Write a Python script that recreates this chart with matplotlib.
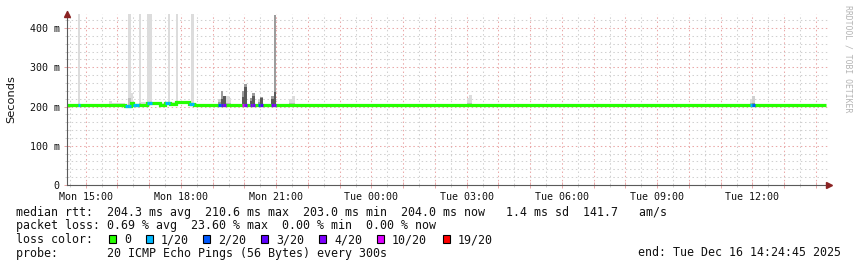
import matplotlib
matplotlib.use("Agg")
import matplotlib.pyplot as plt
import numpy as np
from matplotlib.patches import Rectangle
from matplotlib.ticker import FixedLocator, MultipleLocator

# ---------------- data ----------------
START_H = 14 + 24 / 60 + 45 / 3600        # Mon 14:24:45, hours since Mon 00:00
SPAN_H = 24.0
STEP_H = 5 / 60                           # 300 s steps
FIRST_STEP_H = 14 + 25 / 60

# median rtt (ms), run-length encoded: run lengths and values
median_run_len = [22, 2, 1, 2, 3, 2, 3, 2, 2, 2, 5, 2, 106, 5, 11, 4, 1, 2, 5, 10,
                  2, 2, 3, 3, 29, 2, 27, 10, 5, 2, 10]
median_run_val = [204.3, 202.0, 209.5, 203.5, 205.0, 209.5, 209.0, 203.0, 209.5, 207.0,
                  210.6, 206.0, 204.3, 203.0, 204.3, 203.0, 204.3, 203.0, 204.3, 203.0,
                  204.3, 203.0, 204.3, 203.0, 204.3, 203.0, 204.3, 203.0, 204.3, 203.0, 204.3]

# lost pings (out of 20) at step indices
loss_idx = [4, 22, 23, 25, 26, 30, 31, 37, 38, 46, 47, 57, 58, 59, 66, 67, 69, 70, 72, 73, 77, 78, 258, 259]
loss_cnt = [1, 1, 1, 1, 1, 1, 1, 1, 1, 1, 1, 2, 3, 4, 10, 4, 4, 4, 2, 3, 4, 4, 1, 2]

# smoke: step index, max ping (ms), upper ping of the dense band (ms)
smoke_idx = [4, 16, 17, 18, 19, 20, 21, 23, 24, 27, 28, 29, 30, 31, 32, 33, 34, 35, 36, 38,
             39, 40, 41, 42, 43, 44, 45, 47, 48, 57, 58, 59, 60, 61, 66, 67, 69, 70, 72, 73,
             77, 78, 84, 85, 151, 152, 258, 259]
smoke_top = [435, 213, 209, 209, 209, 209, 209, 435, 234, 435, 212, 212, 435, 435, 210, 210, 210, 210, 210, 435,
             212, 212, 435, 212, 212, 212, 212, 435, 208, 220, 239, 226, 227, 222, 240, 257, 223, 234, 220, 224,
             227, 434, 220, 226, 221, 229, 219, 227]
smoke_mid = [206, 206, 206, 206, 206, 206, 206, 222, 212, 210, 207, 207, 212, 212, 207, 207, 207, 207, 207, 212,
             208, 208, 212, 208, 208, 208, 208, 210, 206, 212, 220, 226, 210, 208, 225, 250, 215, 228, 212, 222,
             220, 237, 208, 208, 208, 208, 208, 208]

tick_hours = [15, 18, 21, 24, 27, 30, 33, 36]
tick_labels = ["Mon 15:00", "Mon 18:00", "Mon 21:00", "Tue 00:00",
               "Tue 03:00", "Tue 06:00", "Tue 09:00", "Tue 12:00"]
ytick_vals = [0, 100, 200, 300, 400]
ytick_labels = ["0", "100 m", "200 m", "300 m", "400 m"]

loss_legend_thresh = [0, 1, 2, 3, 4, 10, 19]
loss_legend_labels = ["0", "1/20", "2/20", "3/20", "4/20", "10/20", "19/20"]
loss_legend_colors = ["#26ff00", "#00b8ff", "#0059ff", "#5e00ff", "#7e00ff", "#dd00ff", "#ff0000"]

line_rtt = "median rtt:  204.3 ms avg  210.6 ms max  203.0 ms min  204.0 ms now   1.4 ms sd  141.7   am/s"
line_loss = "packet loss: 0.69 % avg  23.60 % max  0.00 % min  0.00 % now"
line_color = "loss color:"
line_probe = "probe:       20 ICMP Echo Pings (56 Bytes) every 300s"
line_end = "end: Tue Dec 16 14:24:45 2025"
watermark = "RRDTOOL / TOBI OETIKER"

# ---------------- figure ----------------
W, H = 857, 267
fig = plt.figure(figsize=(W / 100, H / 100), dpi=100)
fig.patch.set_facecolor("white")
fx = lambda x: x / W
fy = lambda y: 1 - y / H

ax = fig.add_axes([fx(67), fy(185), (829 - 67) / W, (185 - 14) / H])
ax.set_xlim(START_H, START_H + SPAN_H)
ax.set_ylim(0, 436)

median = np.repeat(median_run_val, median_run_len)
n = len(median)
edges = FIRST_STEP_H + np.arange(n + 1) * STEP_H
loss = np.zeros(n, dtype=int)
loss[loss_idx] = loss_cnt


def loss_color(l):
    c = loss_legend_colors[0]
    for t, col in zip(loss_legend_thresh, loss_legend_colors):
        if l >= t:
            c = col
    return c


# smoke
for i, top, mid in zip(smoke_idx, smoke_top, smoke_mid):
    base = median[i] - 1.5
    l = loss[i]
    if l >= 3:
        c_mid, c_top = "#5a5a5a", "#9c9c9c"
    elif l == 2:
        c_mid, c_top = "#9a9a9a", "#d0d0d0"
    else:
        c_mid, c_top = "#bdbdbd", "#dcdcdc"
    ax.bar(edges[i], top - mid, bottom=mid, width=STEP_H * 1.05, align="edge",
           color=c_top, linewidth=0, zorder=1)
    ax.bar(edges[i], mid - base, bottom=base, width=STEP_H * 1.05, align="edge",
           color=c_mid, linewidth=0, zorder=1.1)

# median line
ax.stairs(median, edges, baseline=None, color=loss_legend_colors[0], linewidth=2.3, zorder=3)
for i in loss_idx:
    ax.hlines(median[i], edges[i], edges[i + 1], colors=loss_color(loss[i]),
              linewidth=2.3, zorder=3.1, capstyle="butt")

# grid & ticks
major_x = np.arange(15, 39)
ax.xaxis.set_major_locator(FixedLocator(major_x))
ax.xaxis.set_minor_locator(MultipleLocator(0.5))
lab = dict(zip(tick_hours, tick_labels))
ax.set_xticklabels([lab.get(int(h), "") for h in major_x])
ax.yaxis.set_major_locator(FixedLocator(ytick_vals))
ax.yaxis.set_minor_locator(MultipleLocator(20))
ax.set_yticklabels(ytick_labels)

red = "#eaa8a8"
grey = "#d0d0d0"
ax.set_axisbelow(True)
ax.grid(which="major", color=red, linestyle=(0, (1.4, 2.6)), linewidth=0.75, zorder=0.5)
ax.grid(which="minor", color=grey, linestyle=(0, (1.4, 2.6)), linewidth=0.75, zorder=0.5)

mono = "DejaVu Sans Mono"
ax.tick_params(which="major", direction="inout", length=4, width=0.7, color=red,
               labelsize=7.2, labelcolor="#111111")
ax.tick_params(which="minor", direction="inout", length=3, width=0.7, color=grey)
ax.tick_params(axis="x", which="major", pad=3.0)
ax.tick_params(axis="y", which="major", pad=3.4)
for t in ax.get_xticklabels() + ax.get_yticklabels():
    t.set_family(mono)

for s in ["top", "right"]:
    ax.spines[s].set_visible(False)
for s in ["left", "bottom"]:
    ax.spines[s].set_color("#5a5a5a")
    ax.spines[s].set_linewidth(0.8)
    ax.spines[s].set_zorder(4)

# axis arrows
arrow_col = "#8b2323"
ax.plot([0], [1.0], transform=ax.transAxes, marker="^", markersize=4.5, color=arrow_col,
        clip_on=False, zorder=5)
ax.plot([0, 0], [0.99, 1.02], transform=ax.transAxes, color="#5a5a5a", lw=0.8, clip_on=False, zorder=4)
ax.plot([1.0], [0], transform=ax.transAxes, marker=">", markersize=4.5, color=arrow_col,
        clip_on=False, zorder=5)

# y label
fig.text(fx(11), fy(99), "Seconds", rotation=90, ha="center", va="center",
         fontsize=8.2, family="DejaVu Sans", color="#111111")

# watermark
fig.text(fx(848), fy(5), watermark, rotation=270, ha="center", va="top",
         fontsize=5.9, family=mono, color="#b4b4b4")

# legend / stats text
fs = 8.4
fig.text(fx(16), fy(216), line_rtt, fontsize=fs, family=mono, va="baseline", color="#111111")
fig.text(fx(16), fy(229.3), line_loss, fontsize=fs, family=mono, va="baseline", color="#111111")
fig.text(fx(16), fy(243.3), line_color, fontsize=fs, family=mono, va="baseline", color="#111111")
fig.text(fx(16), fy(256.5), line_probe, fontsize=fs, family=mono, va="baseline", color="#111111")
fig.text(fx(841), fy(256.5), line_end, fontsize=fs, family=mono, va="baseline", ha="right",
         color="#111111")

sq_x = [109, 146, 203, 261, 319, 377, 443]
for x, col, txt in zip(sq_x, loss_legend_colors, loss_legend_labels):
    fig.patches.append(Rectangle((fx(x), fy(243.3)), 7 / W, 8.3 / H, transform=fig.transFigure,
                                 facecolor=col, edgecolor="black", linewidth=0.8))
    fig.text(fx(x + 15), fy(243.3), txt, fontsize=fs, family=mono, va="baseline", color="#111111")

fig.savefig("out.png", dpi=100, facecolor="white")
